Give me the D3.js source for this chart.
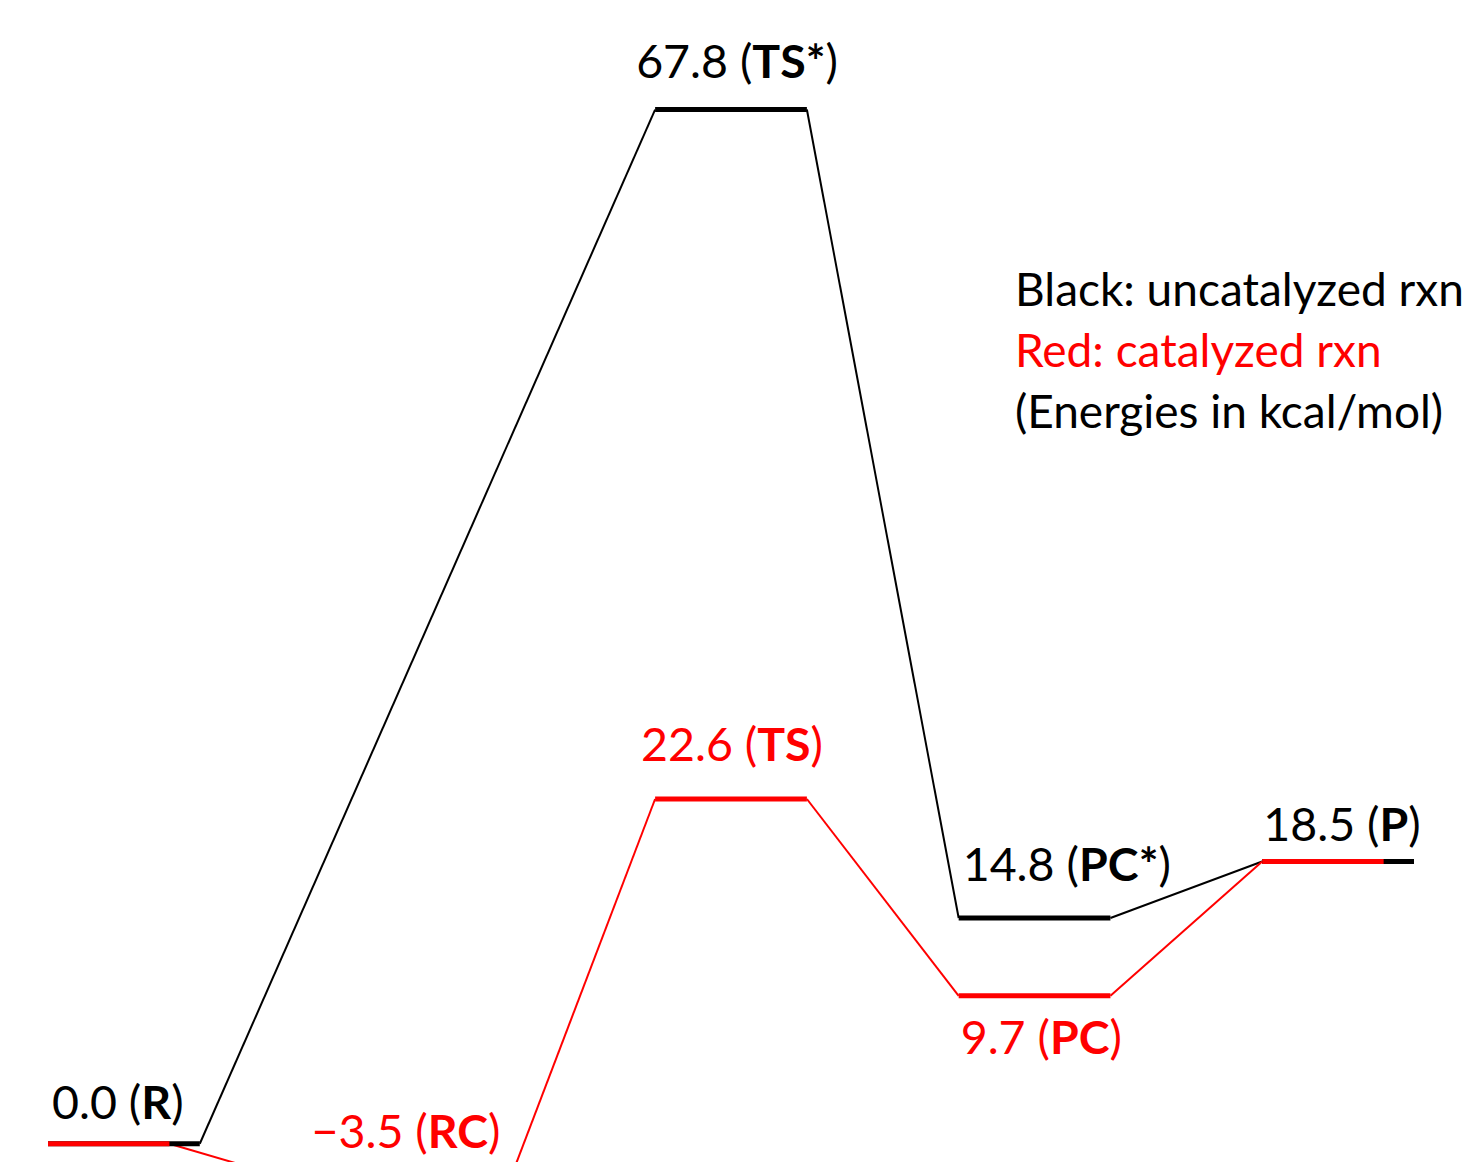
<!DOCTYPE html>
<html>
<head>
<meta charset="utf-8">
<script src="https://cdn.jsdelivr.net/npm/d3@7"></script>
<style>
  html, body { margin: 0; padding: 0; background: #fff; }
  svg { display: block; }
  text { font-family: "Lato", "Liberation Sans", sans-serif; }
</style>
</head>
<body>
<svg id="chart" width="1464" height="1162"></svg>
<script>
// Reaction coordinate columns
const columns = ["R", "RC", "TS", "PC", "P"];

// Uncatalyzed pathway (black)
const uncatColumns = ["R", "TS", "PC", "P"];
const uncatNames = ["R", "TS*", "PC*", "P"];
const uncatEnergies = [0.0, 67.8, 14.8, 18.5];

// Catalyzed pathway (red)
const catColumns = ["R", "RC", "TS", "PC", "P"];
const catNames = ["R", "RC", "TS", "PC", "P"];
const catEnergies = [0.0, -3.5, 22.6, 9.7, 18.5];

const legendLines = ["Black: uncatalyzed rxn", "Red: catalyzed rxn", "(Energies in kcal/mol)"];

const BLACK = "#000000";
const RED = "#ff0000";
const FONT = 46.5;

const svg = d3.select("#chart");
const W = 1464, H = 1162;
svg.append("rect").attr("width", W).attr("height", H).attr("fill", "#fff");

const x = d3.scaleBand().domain(columns).range([48, 1414]).paddingInner(0.5).paddingOuter(0);
const y = d3.scaleLinear().domain([-5, 70]).range([1220, 76]);
const fmt = d3.format(".1f");

function pathway(cols, names, energies) {
  return cols.map((c, i) => ({ col: c, name: names[i], e: energies[i] }));
}
const black = pathway(uncatColumns, uncatNames, uncatEnergies);
const red = pathway(catColumns, catNames, catEnergies);

// states shared by both pathways
const sharedKey = d => d.col + "|" + d.e;
const blackKeys = new Set(black.map(sharedKey));
red.forEach(d => { d.shared = blackKeys.has(sharedKey(d)); });

// level extents: shared red levels cover the first 80% of the column
black.forEach(d => { d.x0 = x(d.col); d.x1 = x(d.col) + x.bandwidth(); });
red.forEach(d => {
  d.x0 = x(d.col);
  d.x1 = x(d.col) + x.bandwidth() * (d.shared ? 0.8 : 1);
});

const gConn = svg.append("g");
const gLev = svg.append("g");
const gLab = svg.append("g");

function connectors(data, color) {
  gConn.selectAll(null)
    .data(d3.pairs(data))
    .join("line")
    .attr("x1", ([a]) => a.x1).attr("y1", ([a]) => y(a.e))
    .attr("x2", ([, b]) => b.x0).attr("y2", ([, b]) => y(b.e))
    .attr("stroke", color).attr("stroke-width", 2);
}
connectors(black, BLACK);
connectors(red, RED);

function levels(data, color) {
  gLev.selectAll(null)
    .data(data)
    .join("line")
    .attr("x1", d => d.x0).attr("x2", d => d.x1)
    .attr("y1", d => y(d.e)).attr("y2", d => y(d.e))
    .attr("stroke", color).attr("stroke-width", 5);
}
levels(black, BLACK);
levels(red, RED);

// label placement per state
const labelPos = {
  "R":   { anchor: "start",  dx: 4,  dy: -25 },
  "TS*": { anchor: "middle", dx: 6,  dy: -32 },
  "PC*": { anchor: "start",  dx: 4,  dy: -37 },
  "P":   { anchor: "start",  dx: 1,  dy: -21 },
  "RC":  { anchor: "end",    dx: -3, dy: -20 },
  "TS":  { anchor: "middle", dx: 1,  dy: -38 },
  "PC":  { anchor: "start",  dx: 2,  dy: 58 }
};

function labels(data, color) {
  data.forEach(d => {
    const p = labelPos[d.name];
    const ax = p.anchor === "start" ? x(d.col) : p.anchor === "end" ? x(d.col) + x.bandwidth() : x(d.col) + x.bandwidth() / 2;
    const by = Math.min(y(d.e) + p.dy, H - 14);
    const t = gLab.append("text")
      .attr("x", ax + p.dx).attr("y", by)
      .attr("text-anchor", p.anchor)
      .attr("font-size", FONT)
      .attr("fill", color);
    t.append("tspan").text(fmt(d.e) + " (");
    t.append("tspan").attr("font-weight", "bold").text(d.name);
    t.append("tspan").text(")");
  });
}
labels(black, BLACK);
labels(red.filter(d => !d.shared), RED);

// legend
svg.append("g").selectAll("text")
  .data(legendLines)
  .join("text")
  .attr("x", 1015)
  .attr("y", (d, i) => 306 + i * 61)
  .attr("font-size", 46)
  .attr("fill", (d, i) => i === 1 ? RED : BLACK)
  .text(d => d);
</script>
</body>
</html>
